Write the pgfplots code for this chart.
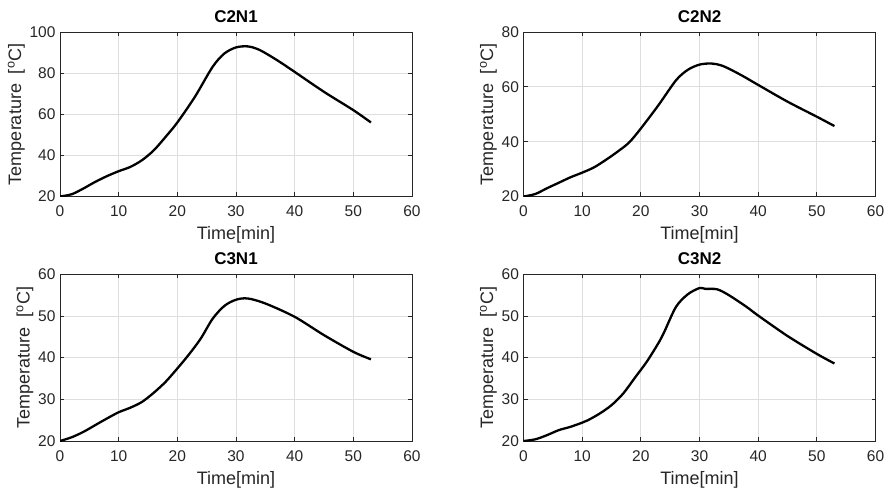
\documentclass[border=0pt]{standalone}
\usepackage{fontspec}
\setmainfont{Liberation Sans}
\usepackage{pgfplots}
\pgfplotsset{compat=1.18}
\definecolor{axgray}{gray}{0.15}
\begin{document}
\begin{tikzpicture}
\path[use as bounding box] (0pt,0pt) rectangle (891pt,493pt);
\pgfplotsset{myax/.style={
  scale only axis, width=352pt, anchor=south west,
  xmin=0, xmax=60, xtick={0,10,...,60},
  grid=major, major grid style={black!13, line width=0.9pt},
  tick align=inside, major tick length=4pt,
  axis line style={axgray, line width=0.8pt},
  every tick/.style={axgray, line width=0.8pt},
  tick label style={font=\fontsize{15.5}{16}\selectfont, text=axgray},
  xticklabel style={yshift=-6pt},
  yticklabel style={xshift=-1pt},
  label style={font=\fontsize{18}{20}\selectfont, text=axgray},
  title style={font=\bfseries\fontsize{17}{19}\selectfont, yshift=0pt},
  xlabel={Time[min]}, ylabel={Temperature\ \ [\textsuperscript{o}C]},
  /pgf/number format/assume math mode=true,
  xlabel style={yshift=-3pt},
  ylabel style={yshift=-2pt},
}}
\pgfplotsset{crv/.style={black, line width=2.3pt, smooth, tension=0.5, mark=none}}
\begin{axis}[myax, at={(60pt,296.5pt)}, height=164.5pt, ymin=20, ymax=100, ytick={20,40,...,100}, title={C2N1}]
\addplot[crv] coordinates {(0,20) (2,21.1) (4,23.9) (6,27.1) (8,29.9) (10,32.3) (12,34.4) (14,37.7) (16,42.5) (18,49) (20,56) (23,68.5) (26,83) (28,89.5) (30,92.5) (32,93) (34,91.3) (37,86.3) (40,80.6) (45,70.9) (50,62) (53,56)};
\end{axis}
\begin{axis}[myax, at={(523.5pt,296.5pt)}, height=164.5pt, ymin=20, ymax=80, ytick={20,40,...,80}, title={C2N2}]
\addplot[crv] coordinates {(0,20) (2,20.9) (4,23) (6,25) (8,27) (10,28.7) (12,30.6) (14,33.3) (16,36.3) (18,39.7) (20,44.8) (23,53.3) (26,62.4) (28,66.2) (30,68.1) (32,68.5) (34,67.6) (37,64.4) (40,60.7) (45,54.6) (50,49.1) (53,45.7)};
\end{axis}
\begin{axis}[myax, at={(60pt,52pt)}, height=166.7pt, ymin=20, ymax=60, ytick={20,30,...,60}, title={C3N1}]
\addplot[crv] coordinates {(0,20) (2,20.9) (4,22.2) (6,23.8) (8,25.4) (10,26.9) (12,28) (14,29.4) (16,31.6) (18,34.2) (20,37.4) (22,40.8) (24,44.6) (26,49.3) (28,52.4) (30,53.9) (32,54.2) (35,53) (40,49.8) (45,45.4) (50,41.4) (53,39.6)};
\end{axis}
\begin{axis}[myax, at={(523.5pt,52pt)}, height=166.7pt, ymin=20, ymax=60, ytick={20,30,...,60}, title={C3N2}]
\addplot[crv] coordinates {(0,20) (2,20.4) (4,21.4) (6,22.6) (8,23.4) (10,24.4) (11,25) (13,26.6) (15,28.6) (17,31.4) (19,35.2) (21,39) (23,43.5) (24,46.2) (26,52.2) (28,55.2) (30,56.7) (31,56.5) (33,56.4) (35,55) (38,52.2) (40,50.1) (45,45.2) (50,40.9) (53,38.6)};
\end{axis}
\end{tikzpicture}
\end{document}
